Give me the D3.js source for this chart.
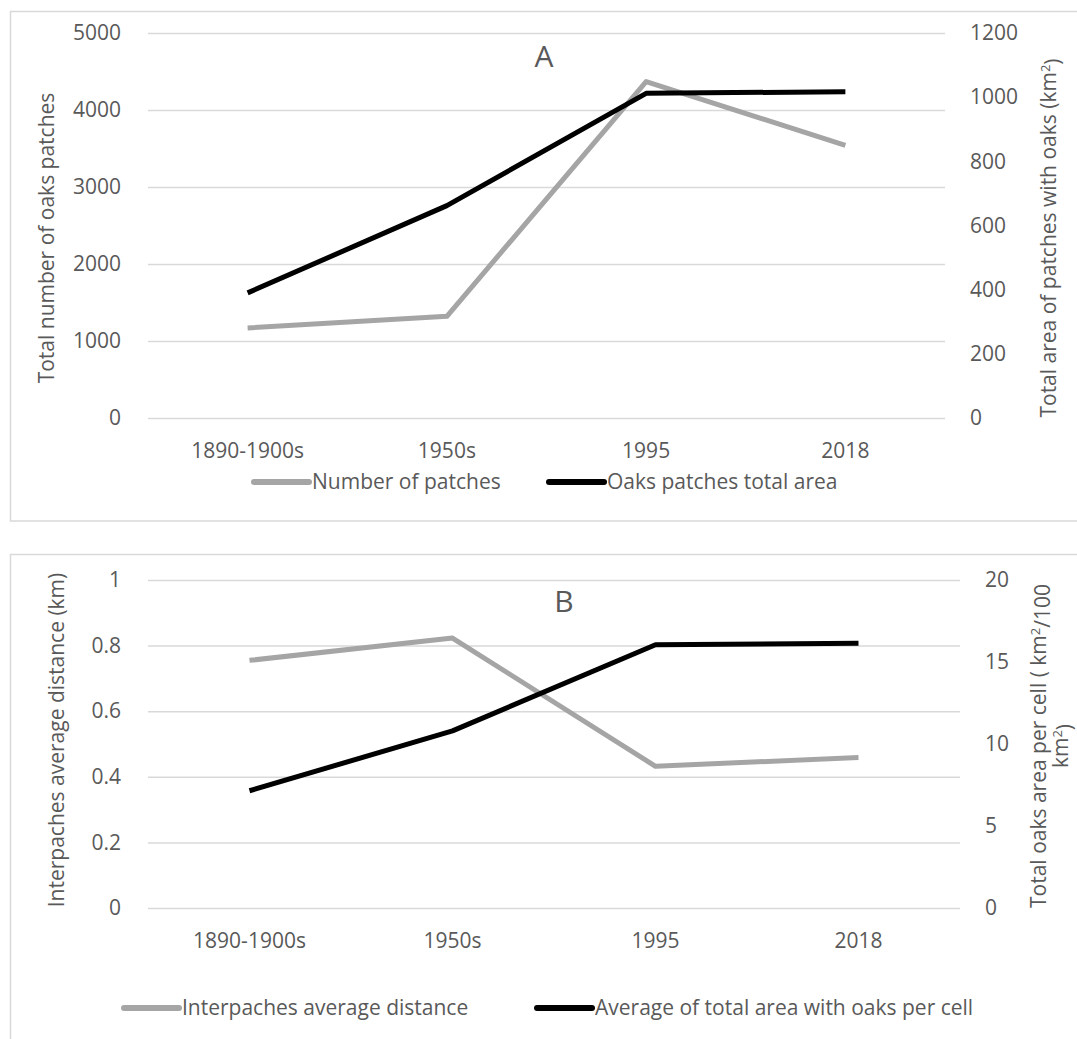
<!DOCTYPE html>
<html>
<head>
<meta charset="utf-8">
<script src="https://cdn.jsdelivr.net/npm/d3@7"></script>
<style>
  body { margin: 0; background: #fff; }
  text { font-family: "Open Sans", "DejaVu Sans", sans-serif; fill: #595959; }
</style>
</head>
<body>
<script>
// ---- data ----
var periods = ["1890-1900s", "1950s", "1995", "2018"];

// panel A
var patchCount = [1170, 1320, 4370, 3540];
var patchArea = [390, 662, 1012, 1017];
var ticksA_left = [0, 1000, 2000, 3000, 4000, 5000];
var ticksA_right = [0, 200, 400, 600, 800, 1000, 1200];

// panel B
var interDistance = [0.755, 0.823, 0.432, 0.459];
var areaPerCell = [7.15, 10.8, 16.05, 16.15];
var ticksB_left = [0, 0.2, 0.4, 0.6, 0.8, 1];
var ticksB_right = [0, 5, 10, 15, 20];

var GRAY = "#a5a5a5", BLACK = "#000000", GRID = "#d9d9d9";

var svg = d3.select("body").append("svg")
    .attr("width", 1077)
    .attr("height", 1039);

// panel frames
svg.append("rect").attr("x", 10.5).attr("y", 11.5).attr("width", 1080).attr("height", 509.5)
    .attr("fill", "none").attr("stroke", GRID).attr("stroke-width", 1.5);
svg.append("rect").attr("x", 10.5).attr("y", 554.5).attr("width", 1080).attr("height", 500)
    .attr("fill", "none").attr("stroke", GRID).attr("stroke-width", 1.5);

function panel(o) {
    var x = d3.scaleBand().domain(periods).range([o.x0, o.x1]);
    var cx = function(p) { return x(p) + x.bandwidth() / 2; };
    var yL = d3.scaleLinear().domain([0, o.maxL]).range([o.y0, o.y1]);
    var yR = d3.scaleLinear().domain([0, o.maxR]).range([o.y0, o.y1]);

    // gridlines
    svg.append("g")
        .attr("transform", "translate(" + o.x0 + ",0)")
        .call(d3.axisLeft(yL).tickValues(o.ticksL).tickSize(-(o.x1 - o.x0)).tickFormat(""))
        .call(function(g) { g.select(".domain").remove(); })
        .selectAll("line").attr("stroke", GRID).attr("stroke-width", 1.5);

    // left ticks
    svg.append("g")
        .attr("transform", "translate(" + (o.x0 - 24) + ",0)")
        .call(d3.axisLeft(yL).tickValues(o.ticksL).tickSize(0).tickFormat(d3.format("")))
        .call(function(g) { g.select(".domain").remove(); })
        .selectAll("text").attr("font-size", 21).style("fill", "#595959");

    // right ticks
    svg.append("g")
        .attr("transform", "translate(" + (o.x1 + o.rightGap) + ",0)")
        .call(d3.axisRight(yR).tickValues(o.ticksR).tickSize(0).tickFormat(d3.format("")))
        .call(function(g) { g.select(".domain").remove(); })
        .selectAll("text").attr("font-size", 21).style("fill", "#595959");

    // category labels
    svg.append("g")
        .attr("transform", "translate(0," + (o.y0 + 22) + ")")
        .call(d3.axisBottom(x).tickSize(0))
        .call(function(g) { g.select(".domain").remove(); })
        .selectAll("text").attr("font-size", 21).style("fill", "#595959")
        .attr("dy", "0.71em");

    // lines
    var line = function(sc) {
        return d3.line().x(function(d, i) { return cx(periods[i]); }).y(function(d) { return sc(d); });
    };
    svg.append("path").datum(o.seriesL)
        .attr("d", line(yL)).attr("fill", "none")
        .attr("stroke", GRAY).attr("stroke-width", 5).attr("stroke-linejoin", "round");
    svg.append("path").datum(o.seriesR)
        .attr("d", line(yR)).attr("fill", "none")
        .attr("stroke", BLACK).attr("stroke-width", 5).attr("stroke-linejoin", "round");

    // title letter
    svg.append("text").attr("x", o.titleX).attr("y", o.titleY)
        .attr("text-anchor", "middle").attr("font-size", 30).text(o.title);

    // axis titles
    var lt = svg.append("text")
        .attr("transform", "translate(" + o.leftTitle[0] + "," + o.leftTitle[1] + ") rotate(-90)")
        .attr("text-anchor", "middle").attr("font-size", 21);
    lt.text(o.leftText);
    var rt = svg.append("text")
        .attr("transform", "translate(" + o.rightTitle[0] + "," + o.rightTitle[1] + ") rotate(-90)")
        .attr("text-anchor", "middle").attr("font-size", 21);
    o.rightText(rt);

    // legend
    o.legend.forEach(function(l) {
        svg.append("line").attr("x1", l.x).attr("x2", l.x + 55)
            .attr("y1", o.legendY).attr("y2", o.legendY)
            .attr("stroke", l.color).attr("stroke-width", 6).attr("stroke-linecap", "round");
        svg.append("text").attr("x", l.x + 58).attr("y", o.legendY)
            .attr("dy", "0.35em").attr("font-size", 21).text(l.label);
    });
}

function supText(t, parts) {
    parts.forEach(function(p) {
        if (p.sup) {
            t.append("tspan").attr("dy", "-0.45em").attr("font-size", 13).text(p.s);
            t.append("tspan").attr("dy", "0.45em").text(p.after);
        } else {
            t.append("tspan").text(p.s);
        }
    });
}

panel({
    x0: 148, x1: 945, y0: 418, y1: 33, maxL: 5000, maxR: 1200,
    ticksL: ticksA_left, ticksR: ticksA_right, rightGap: 22,
    seriesL: patchCount, seriesR: patchArea,
    title: "A", titleX: 544, titleY: 67,
    leftTitle: [54, 238], leftText: "Total number of oaks  patches",
    rightTitle: [1056, 238],
    rightText: function(t) {
        supText(t, [{s: "Total area of patches with oaks (km"}, {sup: true, s: "2", after: ")"}]);
    },
    legendY: 482,
    legend: [
        {x: 254, color: GRAY, label: "Number of patches"},
        {x: 549, color: BLACK, label: "Oaks patches total area"}
    ]
});

panel({
    x0: 148, x1: 960, y0: 908, y1: 580, maxL: 1, maxR: 20,
    ticksL: ticksB_left, ticksR: ticksB_right, rightGap: 22,
    seriesL: interDistance, seriesR: areaPerCell,
    title: "B", titleX: 564, titleY: 612,
    leftTitle: [64, 740], leftText: "Interpaches average distance (km)",
    rightTitle: [1046, 746],
    rightText: function(t) {
        var t1 = t.append("tspan").attr("x", 0).attr("dy", 0);
        t1.append("tspan").text("Total oaks area per cell ( km");
        t1.append("tspan").attr("dy", "-0.45em").attr("font-size", 13).text("2");
        t1.append("tspan").attr("dy", "0.45em").text("/100");
        var t2 = t.append("tspan").attr("x", 0).attr("dy", "0.88em");
        t2.append("tspan").text("km");
        t2.append("tspan").attr("dy", "-0.45em").attr("font-size", 13).text("2");
        t2.append("tspan").attr("dy", "0.45em").text(")");
    },
    legendY: 1008,
    legend: [
        {x: 124, color: GRAY, label: "Interpaches average distance"},
        {x: 537, color: BLACK, label: "Average of total area with oaks per cell"}
    ]
});
</script>
</body>
</html>
